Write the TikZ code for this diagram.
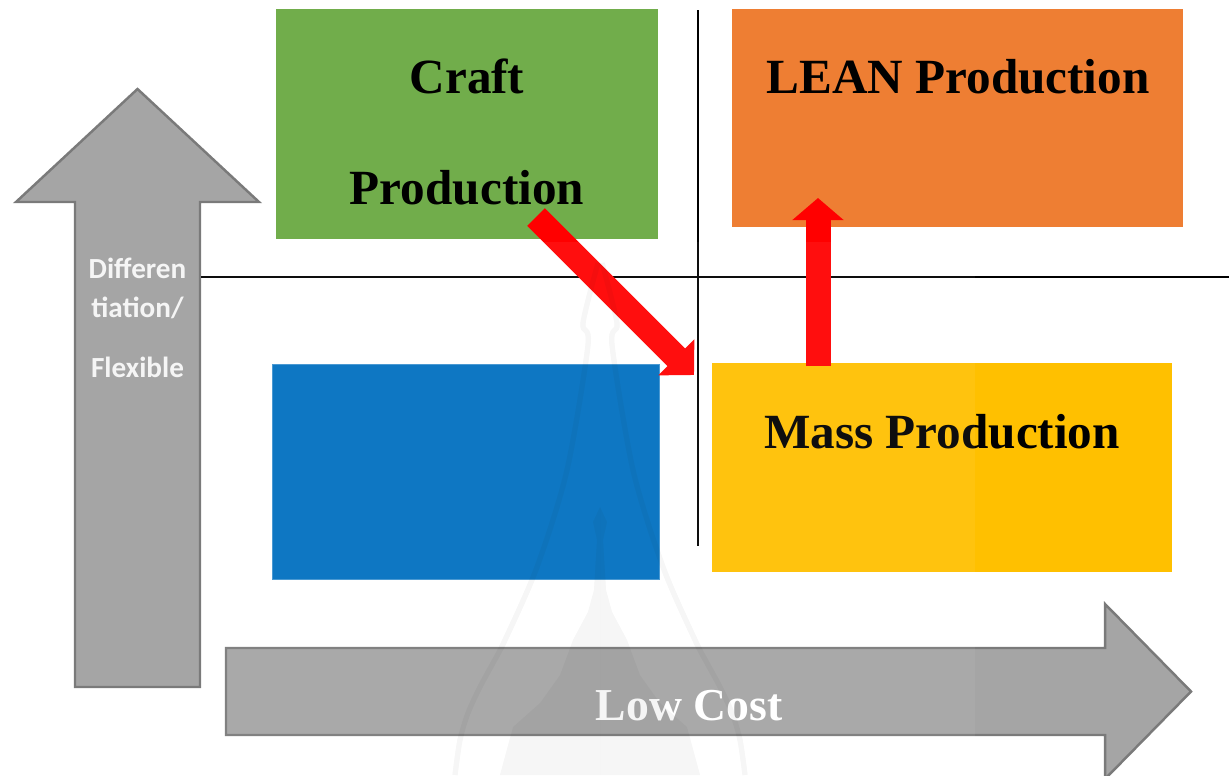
\documentclass[tikz,border=0pt]{standalone}
\usepackage{fontspec}
\setmainfont{Liberation Serif}
\newfontfamily\labelfont{Carlito}
\usetikzlibrary{positioning,arrows.meta}
\definecolor{craftgreen}{HTML}{71AD4B}
\definecolor{leanorange}{HTML}{EE7E33}
\definecolor{emptyblue}{HTML}{0070C0}
\definecolor{massyellow}{HTML}{FFC000}
\definecolor{axisfill}{HTML}{A5A5A5}
\definecolor{axisdraw}{HTML}{7A7A7A}
\tikzstyle{block} = [rectangle, inner sep=0pt, outer sep=0pt]
\tikzstyle{title} = [anchor=base, inner sep=0pt, font=\bfseries\fontsize{28}{28}\selectfont]
\tikzstyle{axis} = [draw=axisdraw, fill=axisfill, line width=1.4pt, line join=miter]
\tikzstyle{guide} = [draw, line width=1.1pt]
\tikzstyle{line} = [draw=red, line width=0.5cm]
\tikzstyle{seal} = [black, opacity=0.04, line width=3pt]
\begin{document}
\begin{tikzpicture}[x=0.02cm, y=-0.02cm]
    \useasboundingbox (0,0) rectangle (1229,775);
    % Axes
    \draw [axis] (137.5,89) -- (259,202) -- (200,202) -- (200,687) -- (75,687) -- (75,202) -- (16,202) -- cycle;
    \draw [axis] (226,648) -- (1105,648) -- (1105,604) -- (1191,691.5) -- (1105,779) -- (1105,735) -- (226,735) -- cycle;
    % Blocks
    \node [block, fill=craftgreen, minimum width=7.64cm, minimum height=4.6cm] (craft) at (467,124) {};
    \node [block, fill=leanorange, minimum width=9.02cm, minimum height=4.36cm] (lean) at (957.5,118) {};
    \node [block, fill=emptyblue, draw=emptyblue!75!white, line width=0.8pt, minimum width=7.74cm, minimum height=4.3cm] (empty) at (466,472) {};
    \node [block, fill=massyellow, minimum width=9.2cm, minimum height=4.18cm] (mass) at (942,467.5) {};
    % Labels
    \node [title] (crafttop) at (467,93) {Craft};
    \node [title] (craftbot) at (467,204) {Production};
    \node [title] (leantxt) at (958,93) {LEAN Production};
    \node [title] (masstxt) at (942,448) {Mass Production};
    \node [title, text=white, font=\bfseries\fontsize{26}{26}\selectfont] (costtxt) at (689,720) {Low Cost};
    \node [anchor=base, inner sep=0pt, align=center, text=white!96!black, font=\labelfont\bfseries\fontsize{16.6}{22}\selectfont] (difftxt) at (137.5,377) {Differen\\tiation/\\[12pt]Flexible};
    % Lines
    \coordinate (vtop) at (698,10);
    \coordinate (vbot) at (698,546);
    \coordinate (hleft) at (201,277);
    \coordinate (hright) at (1229,277);
    \path [guide] (vtop) -- (vbot);
    \path [guide] (hleft) -- (hright);
    \coordinate (craftout) at (536,217);
    \coordinate (massin) at (694,375);
    \coordinate (massout) at (818,366);
    \coordinate (leanin) at (818,198);
    \path [line, -{Triangle[length=0.5cm, width=0.99cm]}] (craftout) -- (massin);
    \path [line, -{Triangle[length=0.44cm, width=1cm]}] (massout) -- (leanin);
    % Watermark
    \foreach \s in {1,-1} {
      \begin{scope}[shift={(600,0)}, xscale=\s]
        \draw [seal] plot [smooth] coordinates {(2,263) (17,323) (12,345) (33,470) (63,567) (95,640) (107,663) (120,687) (132,713) (140,740) (145,775)};
        \fill [seal] (0,507) -- (7,522) -- (3,540) -- (6,590) -- (12,612) -- (27,640) -- (40,675) -- (60,703) -- (87,727) -- (100,775) -- (0,775) -- cycle;
      \end{scope}
    }
    \fill [white, opacity=0.055] (201,242) rectangle (975,775);
\end{tikzpicture}
\end{document}
